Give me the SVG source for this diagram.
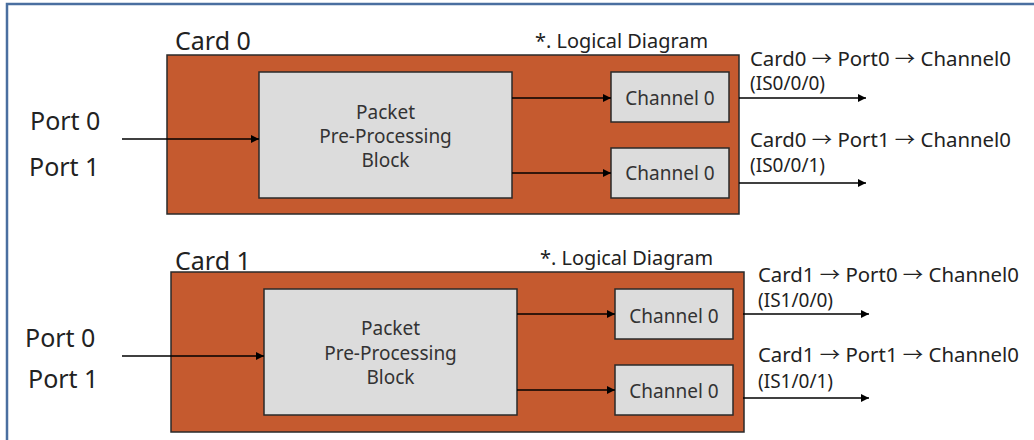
<svg xmlns="http://www.w3.org/2000/svg" width="1034" height="440" viewBox="0 0 1034 440">
<defs>
<style>
text{font-family:"Noto Sans","Open Sans","Liberation Sans",sans-serif;fill:#222}
.card{fill:#C55A2F;stroke:#2a2a2a;stroke-width:1.5}
.box{fill:#DCDCDC;stroke:#2a2a2a;stroke-width:1.5}
.big{font-size:25px}
.mid{font-size:19px;fill:#333}
.lbl{font-size:19px}
.ar{font-family:"Noto Sans CJK KR","Noto Sans CJK SC","DejaVu Sans",sans-serif}
.c{text-anchor:middle}
.ln{stroke:#000;stroke-width:1.3;fill:none;marker-end:url(#ah)}
</style>
<marker id="ah" viewBox="0 0 10 10" refX="10" refY="5" markerWidth="8" markerHeight="8" markerUnits="userSpaceOnUse" orient="auto">
<path d="M0,0 L10,5 L0,10 z" fill="#000"/>
</marker>
</defs>
<rect width="1034" height="440" fill="#fff"/>
<path d="M7,445 V4 H1040" fill="none" stroke="#4A6FA0" stroke-width="2.5"/>

<g id="card0">
<rect class="card" x="167" y="55" width="572" height="159"/>
<text class="big" x="175" y="50">Card 0</text>
<text class="lbl" x="535" y="48" textLength="173" lengthAdjust="spacingAndGlyphs">*. Logical Diagram</text>
</g>
<g id="card0-ports">
<text class="big" x="30" y="130">Port 0</text>
<text class="big" x="29" y="176">Port 1</text>
</g>
<g id="card0-ppb">
<rect class="box" x="259" y="72" width="253" height="126"/>
<text class="mid c" x="385.5" y="119">Packet</text>
<text class="mid c" x="385.5" y="143">Pre-Processing</text>
<text class="mid c" x="385.5" y="167">Block</text>
</g>
<g id="card0-ch0a">
<rect class="box" x="611" y="72" width="118" height="50"/>
<text class="mid c" x="670" y="105">Channel 0</text>
</g>
<g id="card0-ch0b">
<rect class="box" x="611" y="148" width="118" height="50"/>
<text class="mid c" x="670" y="180">Channel 0</text>
</g>
<g id="card0-out">
<text class="lbl" x="750" y="66" textLength="261" lengthAdjust="spacingAndGlyphs">Card0 <tspan class="ar">→</tspan> Port0 <tspan class="ar">→</tspan> Channel0</text>
<text class="lbl" x="750" y="90">(IS0/0/0)</text>
<text class="lbl" x="750" y="147" textLength="261" lengthAdjust="spacingAndGlyphs">Card0 <tspan class="ar">→</tspan> Port1 <tspan class="ar">→</tspan> Channel0</text>
<text class="lbl" x="750" y="172">(IS0/0/1)</text>
</g>

<g id="card1">
<rect class="card" x="171" y="272" width="573" height="160"/>
<text class="big" x="175" y="270">Card 1</text>
<text class="lbl" x="540" y="265" textLength="173" lengthAdjust="spacingAndGlyphs">*. Logical Diagram</text>
</g>
<g id="card1-ports">
<text class="big" x="25" y="347">Port 0</text>
<text class="big" x="28" y="388">Port 1</text>
</g>
<g id="card1-ppb">
<rect class="box" x="264" y="289" width="253" height="126"/>
<text class="mid c" x="390.5" y="335">Packet</text>
<text class="mid c" x="390.5" y="360">Pre-Processing</text>
<text class="mid c" x="390.5" y="384">Block</text>
</g>
<g id="card1-ch0a">
<rect class="box" x="615" y="289" width="118" height="50"/>
<text class="mid c" x="674" y="323">Channel 0</text>
</g>
<g id="card1-ch0b">
<rect class="box" x="615" y="365" width="118" height="50"/>
<text class="mid c" x="674" y="398">Channel 0</text>
</g>
<g id="card1-out">
<text class="lbl" x="758" y="282" textLength="261" lengthAdjust="spacingAndGlyphs">Card1 <tspan class="ar">→</tspan> Port0 <tspan class="ar">→</tspan> Channel0</text>
<text class="lbl" x="758" y="307">(IS1/0/0)</text>
<text class="lbl" x="758" y="362" textLength="261" lengthAdjust="spacingAndGlyphs">Card1 <tspan class="ar">→</tspan> Port1 <tspan class="ar">→</tspan> Channel0</text>
<text class="lbl" x="758" y="388">(IS1/0/1)</text>
</g>

<g id="connectors">
<line class="ln" x1="122" y1="139" x2="259" y2="139"/>
<line class="ln" x1="512" y1="98" x2="611" y2="98"/>
<line class="ln" x1="512" y1="173" x2="611" y2="173"/>
<line class="ln" x1="739" y1="98" x2="866" y2="98"/>
<line class="ln" x1="739" y1="183" x2="866" y2="183"/>
<line class="ln" x1="122" y1="356" x2="264" y2="356"/>
<line class="ln" x1="517" y1="314" x2="615" y2="314"/>
<line class="ln" x1="517" y1="390" x2="615" y2="390"/>
<line class="ln" x1="743" y1="314" x2="869" y2="314"/>
<line class="ln" x1="743" y1="398" x2="869" y2="398"/>
</g>
</svg>
